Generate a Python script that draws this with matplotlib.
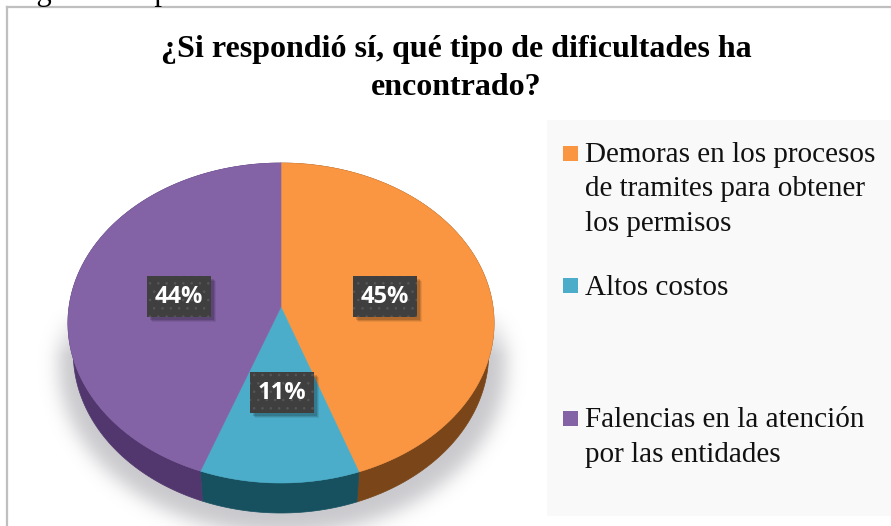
import numpy as np
import matplotlib
matplotlib.use("Agg")
import matplotlib.pyplot as plt
from matplotlib.patches import Polygon, Rectangle

categories = ["Demoras en los procesos\nde tramites para obtener\nlos permisos", "Altos costos", "Falencias en la atención\npor las entidades"]
values = [44.6, 11.0, 44.4]
labels = ["45%", "11%", "44%"]
colors = ["#FA9642", "#4BADC9", "#8363A5"]
side_colors = ["#7A4518", "#17505F", "#52376E"]

title = "¿Si respondió sí, qué tipo de dificultades ha\nencontrado?"
caption = "Figura 8. Tipo de dificultades"

plt.rcParams["font.family"] = ["Liberation Serif", "DejaVu Sans"]
plt.rcParams["hatch.linewidth"] = 0.6

CX, CY = 281, 307
SX, SY, K = 212, 158.4, 0.1
DEPTH = 30


def project(frac):
    # circle seen in perspective, so the hub sits above the ellipse centre
    a = 2 * np.pi * np.asarray(frac)
    u, v = np.sin(a), np.cos(a)
    d = 1 + K * v
    return CX + SX * u / d, CY - SY * v / d


def blur(img, sigma):
    r = int(3 * sigma)
    k = np.exp(-0.5 * (np.arange(-r, r + 1) / sigma) ** 2)
    k /= k.sum()
    img = np.apply_along_axis(lambda m: np.convolve(m, k, mode="same"), 0, img)
    return np.apply_along_axis(lambda m: np.convolve(m, k, mode="same"), 1, img)


fig = plt.figure(figsize=(8.91, 5.26), dpi=100)
ax = fig.add_axes([0, 0, 1, 1])
ax.set_xlim(0, 891)
ax.set_ylim(526, 0)
ax.axis("off")

# frame, only top and left show in the crop
ax.plot([7, 7], [526, 7], color="#BFBFBF", lw=1.6, zorder=1)
ax.plot([7, 891], [7, 7], color="#BFBFBF", lw=1.6, zorder=1)
ax.text(11, 0, caption, fontsize=22, color="black", va="baseline", ha="left", zorder=2)

ax.text(456, 57, title.split("\n")[0], fontsize=23, fontweight="bold", ha="center", va="baseline")
ax.text(456, 95, title.split("\n")[1], fontsize=23, fontweight="bold", ha="center", va="baseline")

# legend panel
ax.add_patch(Rectangle((547, 120), 344, 396, facecolor="#F9F9F9", edgecolor="none", zorder=1))

# soft shadow under the pie
yy, xx = np.mgrid[0:620, 0:620]
sh = (((xx - 282) / 224.0) ** 2 + ((yy - 364) / 170.0) ** 2 <= 1).astype(float)
sh = blur(sh, 9)
sh *= np.clip((yy - 305) / 50.0, 0, 1)
rgba = np.zeros((620, 620, 4))
rgba[..., :3] = np.array([0.62, 0.62, 0.65])
rgba[..., 3] = sh * 0.55
ax.imshow(rgba, extent=(0, 620, 620, 0), zorder=2, aspect="auto", interpolation="bilinear")
ax.set_xlim(0, 891)
ax.set_ylim(526, 0)

edges = np.concatenate([[0], np.cumsum(values)]) / sum(values)

# side walls first, then the top faces over them
for i in range(len(values)):
    t = np.linspace(edges[i], edges[i + 1], 160)
    x, y = project(t)
    xb = CX + (x - CX) * 0.975
    yb = y + DEPTH
    pts = np.column_stack([np.r_[x, xb[::-1]], np.r_[y, yb[::-1]]])
    ax.add_patch(Polygon(pts, closed=True, facecolor=side_colors[i], edgecolor=side_colors[i], lw=0.5, zorder=3))

for i in range(len(values)):
    t = np.linspace(edges[i], edges[i + 1], 160)
    x, y = project(t)
    pts = np.column_stack([np.r_[CX, x], np.r_[CY, y]])
    ax.add_patch(Polygon(pts, closed=True, facecolor=colors[i], edgecolor=colors[i], lw=0.4, zorder=4))

# data labels
label_x = [385, 282, 179]
label_y = [296, 392, 296]
for lx, ly, lab in zip(label_x, label_y, labels):
    for off, alpha in [(5, 0.08), (4, 0.1), (3, 0.14)]:
        ax.add_patch(Rectangle((lx - 32 + off, ly - 20.5 + off), 64, 41, facecolor="black", alpha=alpha,
                               edgecolor="none", zorder=5))
    ax.add_patch(Rectangle((lx - 32, ly - 20.5), 64, 41, facecolor="#3F3F3F", edgecolor="#565656", hatch="..",
                           lw=0, zorder=6))
    ax.text(lx, ly + 1, lab, color="white", fontsize=17, fontweight="bold", family=["Open Sans", "DejaVu Sans"],
            ha="center", va="center", zorder=7)

# legend
swatch_y = [146, 278, 411]
text_y = [162, 295, 427]
line_h = 34.5
for i, cat in enumerate(categories):
    ax.add_patch(Rectangle((563, swatch_y[i]), 15, 15, facecolor=colors[i], edgecolor="none", zorder=3))
    for j, line in enumerate(cat.split("\n")):
        ax.text(585, text_y[i] + j * line_h, line, fontsize=21, color="#111111", va="baseline", ha="left", zorder=3)

fig.savefig("out.png", dpi=100)
plt.close()
